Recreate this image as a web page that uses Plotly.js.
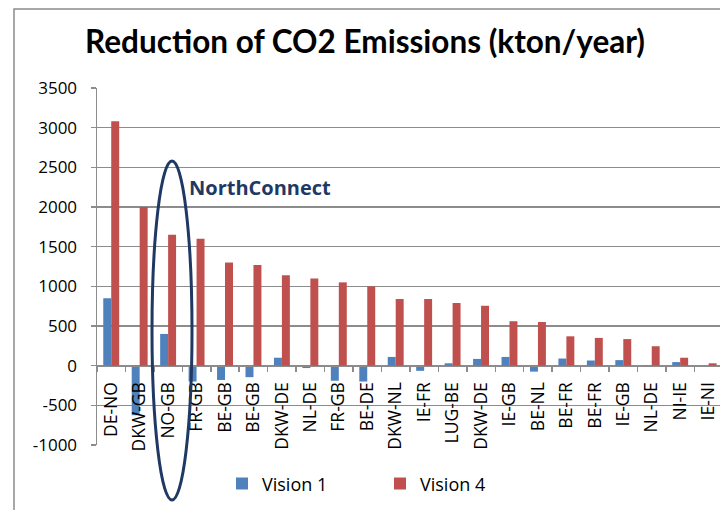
<!DOCTYPE html>
<html>
<head>
<meta charset="utf-8">
<script src="https://cdn.plot.ly/plotly-3.0.1.min.js"></script>
<style>html,body{margin:0;padding:0;background:#fff;}#chart{width:720px;height:510px;}</style>
</head>
<body>
<div id="chart"></div>
<script>
const interconnectors = ["DE-NO","DKW-GB","NO-GB","FR-GB","BE-GB","BE-GB","DKW-DE","NL-DE","FR-GB","BE-DE","DKW-NL","IE-FR","LUG-BE","DKW-DE","IE-GB","BE-NL","BE-FR","BE-FR","IE-GB","NL-DE","NI-IE","IE-NI"];
const vision1 = [850,-625,400,-200,-180,-145,100,-30,-190,-200,110,-65,30,85,110,-75,90,65,70,-15,45,0];
const vision4 = [3080,2000,1650,1600,1300,1270,1140,1100,1050,1000,840,840,790,755,560,550,370,350,335,245,100,30];
const yTicks = [-1000,-500,0,500,1000,1500,2000,2500,3000,3500];
const yTickText = ["-1000","-500","0","500","1000","1500","2000","2500","3000","3500"];

const positions = interconnectors.map((_, i) => i);
const boundaries = interconnectors.map((_, i) => i - 0.5).concat([interconnectors.length - 0.5]);

const font = "Open Sans, Lato, sans-serif";
const gridCol = "#8c8c8c";
const navy = "rgb(31,56,100)";

const traces = [
  {type: "bar", name: "Vision 1", x: positions, y: vision1, marker: {color: "#4F81BD"}},
  {type: "bar", name: "Vision 4", x: positions, y: vision4, marker: {color: "#C0504D"}}
];

const layout = {
  width: 720, height: 510,
  margin: {l: 97, r: 0, t: 88, b: 65, pad: 0},
  paper_bgcolor: "#fff", plot_bgcolor: "#fff",
  font: {family: font, size: 17, color: "#000"},
  title: {text: "<b>Reduction of CO2 Emissions (kton/year)</b>", font: {family: "Lato, Open Sans, sans-serif", size: 31.5, color: "#000"}, x: 0.507, xanchor: "center", y: 0.918, yanchor: "middle"},
  barmode: "group", bargap: 0.44, bargroupgap: 0,
  showlegend: true,
  legend: {orientation: "h", x: (222-97)/623, xanchor: "left", y: -0.109, yanchor: "middle", font: {size: 18}, itemwidth: 30, entrywidth: 113, entrywidthmode: "pixels", tracegroupgap: 0},
  xaxis: {
    range: [-0.5, 21.4], anchor: "free", position: 1000/4500,
    tickmode: "array", tickvals: positions, ticktext: interconnectors,
    tickangle: -90, ticks: "", ticklabelstandoff: 8,
    showline: true, linecolor: gridCol, linewidth: 1.5, showgrid: false, zeroline: false,
    minor: {tickmode: "array", tickvals: boundaries, ticks: "outside", ticklen: 5, tickcolor: gridCol, tickwidth: 1.5, showgrid: false},
    tickfont: {size: 17.5}
  },
  yaxis: {
    range: [-1000, 3500], tickmode: "array", tickvals: yTicks, ticktext: yTickText,
    showgrid: true, gridcolor: gridCol, gridwidth: 1.5,
    zeroline: true, zerolinecolor: gridCol, zerolinewidth: 1.5,
    showline: true, linecolor: gridCol, linewidth: 1.5,
    ticks: "outside", ticklen: 5, tickcolor: gridCol, tickwidth: 1.5,
    ticklabelstandoff: 10, tickfont: {size: 17}
  },
  shapes: [
    {type: "rect", xref: "paper", yref: "paper", x0: (14-97)/623, x1: 1.2, y0: -0.4, y1: (445-9)/357, line: {color: "#8c8c8c", width: 1.5}, fillcolor: "rgba(0,0,0,0)", layer: "below"},
    {type: "circle", xref: "paper", yref: "paper", x0: (152-97)/623, x1: (192-97)/623, y0: (445-500)/357, y1: (445-161)/357, line: {color: navy, width: 3}, layer: "above"}
  ],
  annotations: [
    {text: "<b>NorthConnect</b>", xref: "paper", yref: "paper", x: (260-97)/623, y: (445-187)/357, showarrow: false, xanchor: "center", yanchor: "middle", font: {family: font, size: 20, color: navy}}
  ]
};

Plotly.newPlot("chart", traces, layout, {displayModeBar: false, staticPlot: true});
</script>
</body>
</html>
